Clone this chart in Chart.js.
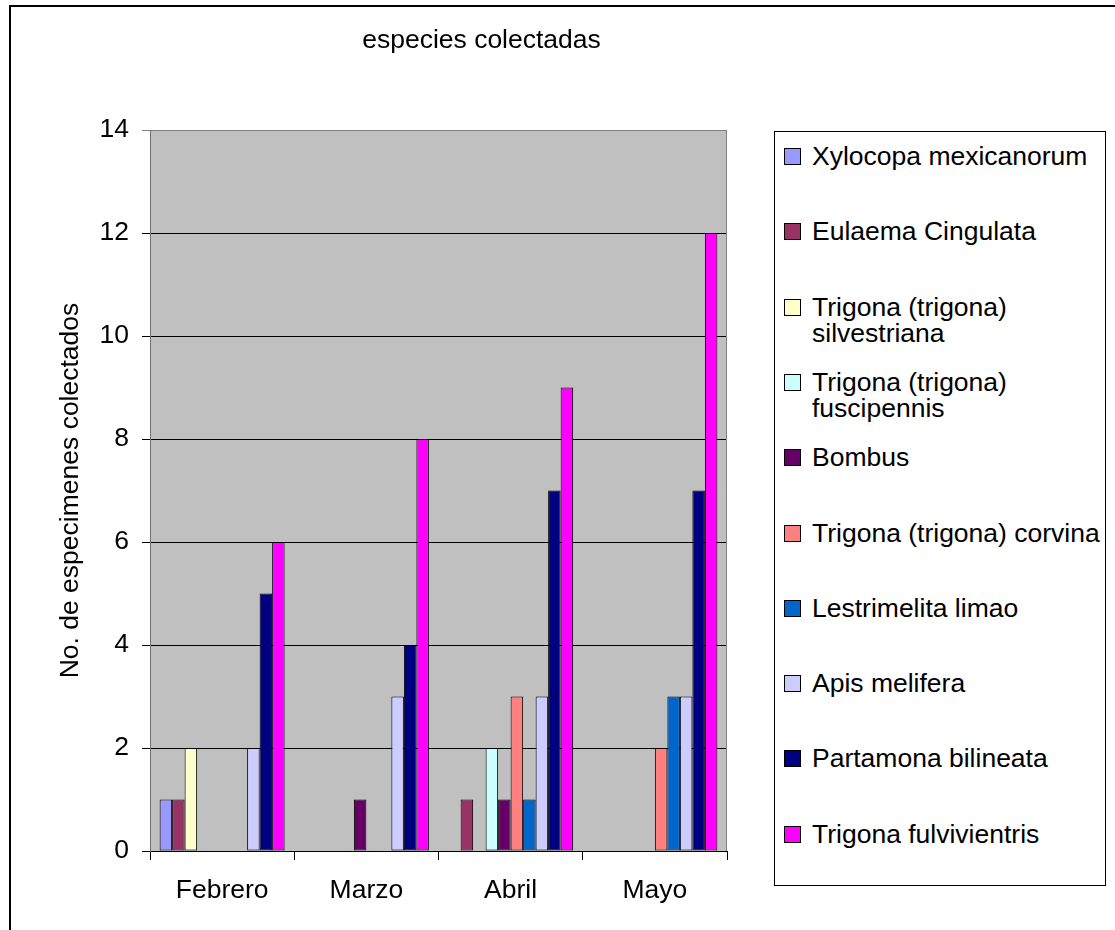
<!DOCTYPE html>
<html>
<head>
<meta charset="utf-8">
<script src="https://cdn.jsdelivr.net/npm/chart.js@4.4.1/dist/chart.umd.min.js"></script>
<style>
html,body{margin:0;padding:0;width:1115px;height:930px;overflow:hidden;background:#fff;font-family:"Liberation Sans",Arial,sans-serif;}
#frame{position:absolute;left:9px;top:5px;width:1300px;height:1100px;border:2px solid #000;box-sizing:border-box;}
#c{position:absolute;left:0;top:0;}
#legend{position:absolute;left:774px;top:131px;width:332px;height:755px;border:1px solid #000;box-sizing:border-box;background:#fff;}
.item{position:absolute;left:0;width:330px;height:60px;font-size:26.5px;line-height:26px;color:#000;}
.sw{position:absolute;left:9px;top:5px;width:17px;height:17px;border:1px solid #000;box-sizing:border-box;}
.tx{position:absolute;left:37px;top:0;white-space:nowrap;}
</style>
</head>
<body>
<div id="frame"></div>
<canvas id="c" width="1115" height="930"></canvas>
<div id="legend"></div>
<script>
// ---- data ----
const chartTitle = 'especies colectadas';
const yAxisTitle = 'No. de especimenes colectados';
const categories = ['Febrero', 'Marzo', 'Abril', 'Mayo'];
const seriesNames = [
  'Xylocopa mexicanorum',
  'Eulaema Cingulata',
  'Trigona (trigona) silvestriana',
  'Trigona (trigona) fuscipennis',
  'Bombus',
  'Trigona (trigona) corvina',
  'Lestrimelita limao',
  'Apis melifera',
  'Partamona bilineata',
  'Trigona fulvivientris'
];
const xylocopa      = [1, 0, 0, 0];
const eulaema       = [1, 0, 1, 0];
const silvestriana  = [2, 0, 0, 0];
const fuscipennis   = [0, 0, 2, 0];
const bombus        = [0, 1, 1, 0];
const corvina       = [0, 0, 3, 2];
const lestrimelita  = [0, 0, 1, 3];
const apis          = [2, 3, 3, 3];
const partamona     = [5, 4, 7, 7];
const fulvivientris = [6, 8, 9, 12];
const yMin = 0, yMax = 14, yStep = 2;

// ---- styles ----
const seriesValues = [xylocopa, eulaema, silvestriana, fuscipennis, bombus, corvina, lestrimelita, apis, partamona, fulvivientris];
const seriesColors = ['#9999FF', '#993366', '#FFFFCC', '#CCFFFF', '#660066', '#FF8080', '#0066CC', '#CCCCFF', '#000080', '#FF00FF'];
const FONT = '"Liberation Sans", Arial, sans-serif';
const FS = 26.5;

Chart.defaults.font.family = FONT;
Chart.defaults.color = '#000';

const plotFrame = {
  id: 'plotFrame',
  afterLayout(chart) {
    if (chart.titleBlock) { chart.titleBlock.left = 10; chart.titleBlock.right = 953; }
  },
  beforeDraw(chart) {
    const {ctx, chartArea: a} = chart;
    ctx.save();
    ctx.fillStyle = '#C0C0C0';
    ctx.fillRect(a.left, a.top, a.right - a.left, a.bottom - a.top);
    ctx.restore();
  },
  afterDraw(chart) {
    const {ctx, chartArea: a} = chart;
    ctx.save();
    ctx.strokeStyle = '#808080';
    ctx.lineWidth = 1;
    ctx.beginPath();
    const r = Math.round(a.right) - 0.5;
    ctx.moveTo(r, Math.round(a.top));
    ctx.lineTo(r, Math.round(a.bottom));
    ctx.stroke();
    ctx.restore();
  }
};

const datasets = seriesNames.map((name, i) => ({
  label: name,
  data: seriesValues[i],
  backgroundColor: seriesColors[i],
  borderColor: '#000',
  borderWidth: 1,
  borderSkipped: false,
  barPercentage: 1.0,
  categoryPercentage: 0.8666
}));

const chart = new Chart(document.getElementById('c'), {
  type: 'bar',
  data: { labels: categories, datasets },
  plugins: [plotFrame],
  options: {
    responsive: false,
    animation: false,
    layout: { padding: { left: 10, right: 388, top: 0, bottom: 0 } },
    plugins: {
      legend: { display: false },
      tooltip: { enabled: false },
      title: {
        display: true,
        text: chartTitle,
        color: '#000',
        font: { size: FS, weight: 'normal', family: FONT },
        padding: { top: 25, bottom: 73.2 }
      }
    },
    scales: {
      x: {
        afterFit(s) { s.height = 79; },
        grid: {
          display: true, drawOnChartArea: false, drawTicks: true,
          tickLength: 9, color: '#000', offset: true
        },
        border: { color: '#000', width: 1 },
        ticks: { font: { size: FS }, color: '#000', padding: 15, maxRotation: 0 }
      },
      y: {
        min: yMin, max: yMax,
        afterFit(s) { s.width = 140; },
        grid: {
          color: (c) => (c.tick && c.tick.value === yMax) ? '#808080' : '#000',
          tickColor: (c) => (c.tick && c.tick.value === yMax) ? '#808080' : '#000',
          tickLength: 8, lineWidth: 1
        },
        border: { color: '#707070', width: 1 },
        ticks: { stepSize: yStep, font: { size: FS }, color: '#000', padding: 13 },
        title: {
          display: true, text: yAxisTitle, color: '#000',
          font: { size: FS, weight: 'normal' },
          padding: { top: 45, bottom: 0 }
        }
      }
    }
  }
});

// ---- HTML legend built from datasets ----
(function buildLegend() {
  const lg = document.getElementById('legend');
  const mctx = document.createElement('canvas').getContext('2d');
  mctx.font = FS + 'px ' + FONT;
  const maxW = 300;
  chart.data.datasets.forEach((ds, i) => {
    const item = document.createElement('div');
    item.className = 'item';
    item.style.top = (24 + i * 75.3 - 13) + 'px';
    const sw = document.createElement('div');
    sw.className = 'sw';
    sw.style.background = ds.backgroundColor;
    const tx = document.createElement('div');
    tx.className = 'tx';
    // wrap words that exceed the legend width
    const words = ds.label.split(' ');
    const lines = [];
    let cur = '';
    words.forEach(w => {
      const t = cur ? cur + ' ' + w : w;
      if (cur && mctx.measureText(t).width > maxW) { lines.push(cur); cur = w; }
      else cur = t;
    });
    lines.push(cur);
    lines.forEach((ln, k) => {
      if (k) tx.appendChild(document.createElement('br'));
      tx.appendChild(document.createTextNode(ln));
    });
    item.appendChild(sw);
    item.appendChild(tx);
    lg.appendChild(item);
  });
})();
</script>
</body>
</html>
